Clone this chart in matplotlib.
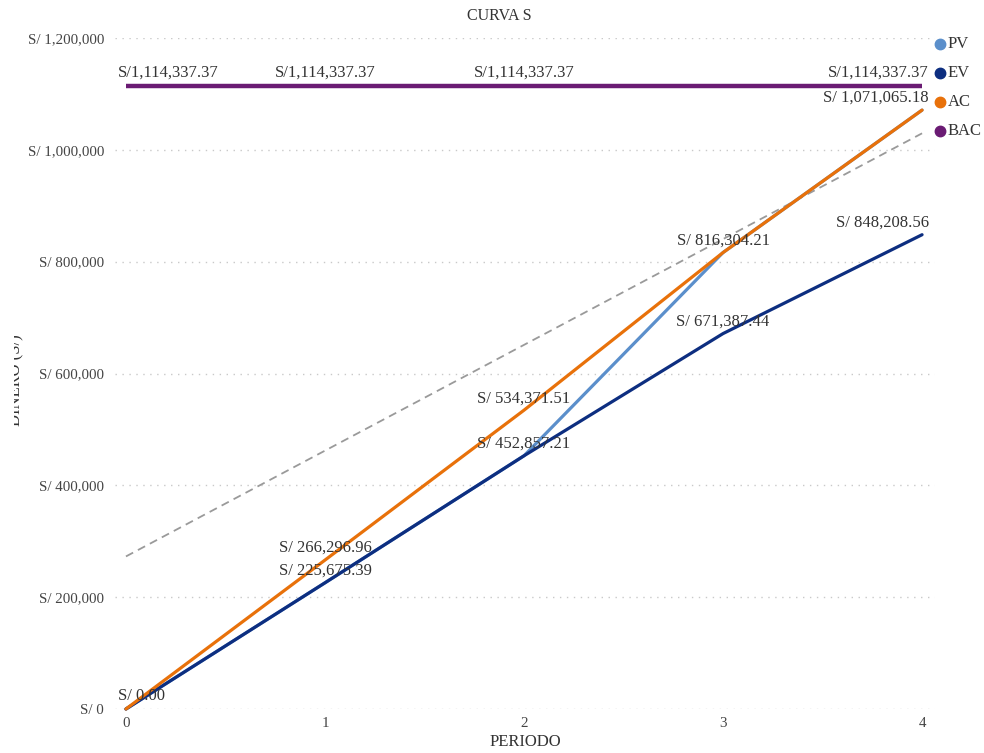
import numpy as np
import matplotlib
matplotlib.use("Agg")
import matplotlib.pyplot as plt
from matplotlib.lines import Line2D
from matplotlib.transforms import Bbox, TransformedBbox

# Earned value data by period
periods = [0, 1, 2, 3, 4]
pv = [0.00, 225675.39, 452857.21, 816304.21, 1071065.18]
ev = [0.00, 225675.39, 452857.21, 671387.44, 848208.56]
ac = [0.00, 266296.96, 534371.51, 816304.21, 1071065.18]
bac = [1114337.37, 1114337.37, 1114337.37, 1114337.37, 1114337.37]

series_names = ["PV", "EV", "AC", "BAC"]
series_colors = ["#5B8FCB", "#0D2E80", "#E8710A", "#6A1B73"]
yticks = [0, 200000, 400000, 600000, 800000, 1000000, 1200000]

plt.rcParams["font.family"] = ["Liberation Serif", "DejaVu Serif"]

W, H = 984, 753
fig = plt.figure(figsize=(W / 100, H / 100), dpi=100)
ax = fig.add_axes([115 / W, 1 - 709 / H, (935 - 115) / W, (709 - 38) / H])

# Linear trend across all plotted series
all_x = np.concatenate([periods] * 4)
all_y = np.concatenate([pv, ev, ac, bac])
slope, intercept = np.polyfit(all_x, all_y, 1)
tx = np.array([periods[0], periods[-1]])
ax.plot(tx, intercept + slope * tx, color="#9a9a9a", lw=1.3,
        ls=(0, (4.5, 3)), zorder=2, clip_on=False)

ax.plot(periods, pv, color=series_colors[0], lw=2.3, zorder=3,
        clip_on=False, solid_capstyle="round")
ax.plot(periods, ev, color=series_colors[1], lw=2.3, zorder=4,
        clip_on=False, solid_capstyle="round")
ax.plot(periods, ac, color=series_colors[2], lw=2.3, zorder=5,
        clip_on=False, solid_capstyle="round")
ax.plot(periods, bac, color=series_colors[3], lw=3.2, zorder=6,
        clip_on=False, solid_capstyle="butt")

ax.set_xlim(-0.055, 4.065)
ax.set_ylim(0, 1200000)
ax.set_xticks(periods)
ax.set_yticks(yticks)
ax.set_yticklabels([f"S/ {v:,.0f}" for v in yticks])
ax.tick_params(axis="both", length=0, labelsize=10.8, labelcolor="#444444")
ax.tick_params(axis="y", pad=8)
ax.tick_params(axis="x", pad=6)
for s in ax.spines.values():
    s.set_visible(False)
ax.grid(axis="y", color="#c9c9c9", lw=1.0, ls=(0, (1, 4)))
ax.set_axisbelow(True)

lab_kw = dict(textcoords="offset pixels", fontsize=12, color="#333333",
              va="center", zorder=10, annotation_clip=False)


def place(x, y, text, dy):
    if x == periods[0]:
        ax.annotate(text, (x, y), xytext=(-8, dy), ha="left", **lab_kw)
    elif x == periods[-1]:
        ax.annotate(text, (x, y), xytext=(7, dy), ha="right", **lab_kw)
    else:
        ax.annotate(text, (x, y), xytext=(0, dy), ha="center", **lab_kw)


# Value labels
place(periods[0], ev[0], f"S/ {ev[0]:,.2f}", 13)
for i in range(1, len(periods)):
    place(periods[i], ev[i], f"S/ {ev[i]:,.2f}", 12)
    place(periods[i], ac[i], f"S/ {ac[i]:,.2f}", 12)
for i in [0, 1, 2, 4]:
    place(periods[i], bac[i], f"S/{bac[i]:,.2f}", 13)

# Legend on the right
for k, (name, col) in enumerate(zip(series_names, series_colors)):
    yy = 1 - (44 + 29 * k) / H
    fig.add_artist(Line2D([940 / W], [yy], marker="o", ms=7.5, color=col,
                          ls="", transform=fig.transFigure))
    fig.text(948 / W, yy, name, fontsize=12, color="#333333",
             ha="left", va="center")

fig.text(499 / W, 1 - 16 / H, "CURVA S", fontsize=11.5, color="#333333",
         ha="center", va="center")
fig.text(525 / W, 1 - 742 / H, "PERIODO", fontsize=12, color="#333333",
         ha="center", va="center")

ylab = fig.text(24 / W, 373 / H, "DINERO (S/)", fontsize=12, color="#333333",
                rotation=90, ha="right", va="center")
ylab.set_clip_box(TransformedBbox(Bbox([[14 / W, 0], [1, 1]]), fig.transFigure))
ylab.set_clip_on(True)

fig.savefig("out.png", dpi=100, facecolor="white")
